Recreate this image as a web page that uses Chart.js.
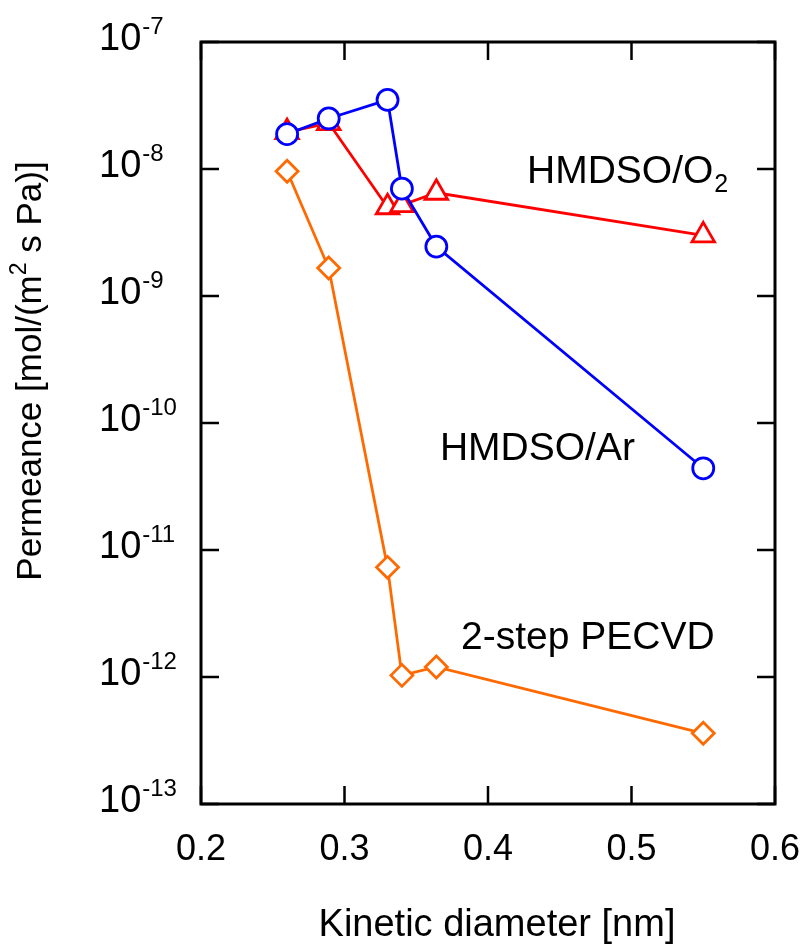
<!DOCTYPE html>
<html>
<head>
<meta charset="utf-8">
<script src="https://cdn.jsdelivr.net/npm/chart.js@4"></script>
<style>
  html, body { margin: 0; padding: 0; background: #fff; }
</style>
</head>
<body>
<canvas id="grafico" width="807" height="949"></canvas>
<script>
// diâmetro cinético (He, H2, CO2, Ar, N2, SF6)
const diametros = [0.26, 0.289, 0.33, 0.34, 0.364, 0.55];
const permO2 = [1.95e-8, 2.3e-8, 5.0e-9, 5.2e-9, 6.5e-9, 3.0e-9];
const permAr = [1.88e-8, 2.5e-8, 3.5e-8, 7.0e-9, 2.45e-9, 4.4e-11];
const permPecvd = [9.6e-9, 1.66e-9, 7.3e-12, 1.03e-12, 1.2e-12, 3.6e-13];

const xTicks = [0.2, 0.3, 0.4, 0.5, 0.6];
const yExpoentes = [-7, -8, -9, -10, -11, -12, -13];

const FONTE = '"Liberation Sans", Arial, sans-serif';

function pontos(valores) {
  return diametros.map((d, i) => ({ x: d, y: valores[i] }));
}

// eixos, ticks internos e textos
const desenhoExtra = {
  id: 'desenhoExtra',
  afterDraw(chart) {
    const ctx = chart.ctx;
    const area = chart.chartArea;
    const sx = chart.scales.x;
    const sy = chart.scales.y;
    ctx.save();
    ctx.strokeStyle = '#000';
    ctx.lineWidth = 3;
    ctx.strokeRect(area.left, area.top, area.right - area.left, area.bottom - area.top);

    ctx.lineWidth = 2.5;
    const tam = 18;
    xTicks.forEach(v => {
      const px = sx.getPixelForValue(v);
      ctx.beginPath();
      ctx.moveTo(px, area.bottom); ctx.lineTo(px, area.bottom - tam);
      ctx.moveTo(px, area.top); ctx.lineTo(px, area.top + tam);
      ctx.stroke();
    });
    yExpoentes.forEach(e => {
      const py = sy.getPixelForValue(Math.pow(10, e));
      ctx.beginPath();
      ctx.moveTo(area.left, py); ctx.lineTo(area.left + tam, py);
      ctx.moveTo(area.right, py); ctx.lineTo(area.right - tam, py);
      ctx.stroke();
    });

    ctx.fillStyle = '#000';
    // rótulos x
    ctx.font = '36px ' + FONTE;
    ctx.textAlign = 'center';
    ctx.textBaseline = 'middle';
    xTicks.forEach(v => {
      ctx.fillText(v.toFixed(1), sx.getPixelForValue(v), 850);
    });

    // rótulos y com expoente
    yExpoentes.forEach(e => {
      const py = sy.getPixelForValue(Math.pow(10, e));
      ctx.font = '38px ' + FONTE;
      ctx.textAlign = 'left';
      ctx.textBaseline = 'middle';
      ctx.fillText('10', 99, py - 2);
      const w = ctx.measureText('10').width;
      ctx.font = '24px ' + FONTE;
      ctx.fillText('-' + Math.abs(e), 99 + w + 1, py - 15);
    });

    // títulos dos eixos
    ctx.font = '38px ' + FONTE;
    ctx.textAlign = 'center';
    ctx.fillText('Kinetic diameter [nm]', 497, 926);
    ctx.save();
    ctx.translate(31, 371);
    ctx.rotate(-Math.PI / 2);
    ctx.font = '35px ' + FONTE;
    ctx.textAlign = 'left';
    const t1 = 'Permeance [mol/(m';
    const t2 = ' s Pa)]';
    const w1 = ctx.measureText(t1).width;
    const w3 = ctx.measureText(t2).width;
    ctx.font = '23px ' + FONTE;
    const w2 = ctx.measureText('2').width;
    const x0 = -(w1 + w2 + w3) / 2;
    ctx.font = '35px ' + FONTE;
    ctx.fillText(t1, x0, 0);
    ctx.fillText(t2, x0 + w1 + w2, 0);
    ctx.font = '23px ' + FONTE;
    ctx.fillText('2', x0 + w1, -11);
    ctx.restore();

    // legendas das curvas
    ctx.textAlign = 'left';
    ctx.font = '39px ' + FONTE;
    const px = sx.getPixelForValue(0.4272);
    const py = sy.getPixelForValue(9.5e-9);
    ctx.fillText('HMDSO/O', px, py);
    const wo = ctx.measureText('HMDSO/O').width;
    ctx.font = '25px ' + FONTE;
    ctx.fillText('2', px + wo + 1, py + 13);

    ctx.font = '39px ' + FONTE;
    ctx.fillText('HMDSO/Ar', sx.getPixelForValue(0.3665), sy.getPixelForValue(6.2e-11));
    ctx.fillText('2-step PECVD', sx.getPixelForValue(0.3812), sy.getPixelForValue(2.03e-12));
    ctx.restore();
  }
};

new Chart(document.getElementById('grafico'), {
  type: 'line',
  data: {
    datasets: [
      {
        label: 'HMDSO/Ar',
        data: pontos(permAr),
        borderColor: '#0000ff',
        backgroundColor: '#ffffff',
        borderWidth: 2.8,
        pointStyle: 'circle',
        pointRadius: 10.5,
        pointBorderWidth: 2.8,
        tension: 0
      },
      {
        label: 'HMDSO/O2',
        data: pontos(permO2),
        borderColor: '#ff0000',
        backgroundColor: '#ffffff',
        borderWidth: 2.8,
        pointStyle: 'triangle',
        pointRadius: 13,
        pointBorderWidth: 2.8,
        tension: 0
      },
      {
        label: '2-step PECVD',
        data: pontos(permPecvd),
        borderColor: '#ff6a00',
        backgroundColor: '#ffffff',
        borderWidth: 2.8,
        pointStyle: 'rectRot',
        pointRadius: 11,
        pointBorderWidth: 2.8,
        tension: 0
      }
    ]
  },
  options: {
    responsive: false,
    animation: false,
    layout: { padding: { left: 0, top: 42, right: 32, bottom: 0 } },
    plugins: {
      legend: { display: false },
      tooltip: { enabled: false }
    },
    scales: {
      x: {
        type: 'linear',
        min: 0.2,
        max: 0.6,
        grid: { display: false },
        border: { display: false },
        ticks: { display: false },
        afterFit: s => { s.height = 145; }
      },
      y: {
        type: 'logarithmic',
        min: 1e-13,
        max: 1e-7,
        grid: { display: false },
        border: { display: false },
        ticks: { display: false },
        afterFit: s => { s.width = 201; }
      }
    }
  },
  plugins: [desenhoExtra]
});
</script>
</body>
</html>
